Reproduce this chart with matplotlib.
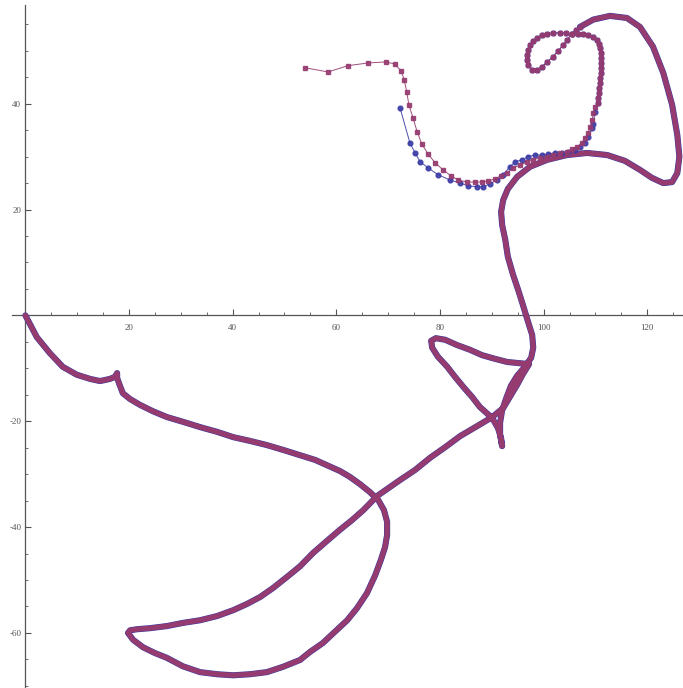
import matplotlib
matplotlib.use("Agg")
import matplotlib.pyplot as plt
from matplotlib.ticker import MultipleLocator, FixedLocator

# dense common trajectory (both series overlap here)
path_x = [0.0, 2.2, 4.7, 7.2, 9.9, 12.5, 14.4, 16.3, 17.3, 17.7, 17.7, 18.1, 18.8, 20.2, 22.1,
          24.6, 27.3, 30.4, 33.7, 37.0, 40.1, 43.3, 46.6, 49.7, 53.0, 55.9, 58.2, 60.7, 62.6,
          64.6, 66.5, 68.1, 69.2, 69.8, 69.8, 69.4, 68.6, 67.5, 65.9, 64.0, 62.1, 59.7, 57.4,
          54.9, 53.0, 49.7, 46.6, 43.3, 40.1, 37.0, 33.7, 30.4, 27.3, 25.0, 22.7, 20.8, 19.8,
          20.2, 21.5, 24.0, 27.3, 30.4, 33.7, 37.0, 40.1, 42.8, 45.3, 47.8, 50.5, 53.0, 55.5,
          58.2, 60.7, 63.0, 65.2, 67.9, 70.4, 72.3, 75.2, 78.1, 81.0, 83.9, 87.2, 90.1, 92.2,
          93.5, 94.9, 96.0, 97.2, 95.1, 93.0, 90.6, 88.1, 85.8, 83.3, 81.0, 79.2, 78.3, 78.5,
          79.6, 81.4, 82.9, 84.5, 86.2, 87.7, 90.1, 91.2, 91.8, 92.0, 91.6, 91.6, 92.0, 92.8,
          93.7, 94.9, 96.4, 97.6, 98.0, 97.8, 97.0, 96.0, 95.1, 94.1, 93.1, 92.6, 92.0, 91.8,
          92.2, 93.1, 94.9, 97.4, 100.7, 104.5, 108.4, 112.3, 115.7, 118.6, 120.9, 123.1, 124.8,
          125.8, 126.2, 125.8, 124.8, 123.1, 121.1, 118.6, 116.1, 112.8, 109.6, 107.0]
path_y = [0.0, -4.1, -7.1, -9.7, -11.2, -12.0, -12.4, -12.0, -11.6, -10.9, -11.8, -12.9, -14.7,
          -15.8, -16.9, -18.1, -19.2, -20.1, -21.1, -22.0, -23.0, -23.7, -24.5, -25.4, -26.4,
          -27.3, -28.3, -29.4, -30.5, -31.9, -33.4, -34.9, -36.8, -39.0, -41.5, -43.8, -46.2,
          -49.1, -52.5, -55.3, -57.6, -59.8, -61.9, -63.6, -65.1, -66.4, -67.4, -67.8, -68.0,
          -67.8, -67.4, -66.3, -64.7, -63.8, -62.7, -61.3, -60.0, -59.5, -59.3, -59.1, -58.7,
          -58.1, -57.6, -56.8, -55.7, -54.5, -53.2, -51.5, -49.4, -47.4, -44.9, -42.6, -40.5,
          -38.7, -36.8, -34.1, -32.4, -31.1, -29.2, -26.9, -24.9, -22.8, -20.9, -19.2, -17.5,
          -15.4, -13.1, -11.1, -9.2, -9.0, -8.8, -8.2, -7.5, -6.5, -5.6, -4.6, -4.3, -4.8, -6.1,
          -7.8, -9.7, -11.6, -13.5, -15.4, -17.3, -19.4, -21.3, -23.2, -24.7, -22.6, -20.3,
          -17.9, -15.6, -13.3, -11.4, -9.7, -8.0, -6.1, -3.7, -1.2, 2.0, 4.8, 7.7, 11.1, 14.3,
          17.1, 19.6, 21.8, 23.9, 26.2, 28.1, 29.4, 30.3, 30.7, 30.3, 29.2, 27.5, 26.0, 25.0,
          25.2, 26.9, 30.0, 34.1, 39.8, 45.8, 50.8, 54.5, 56.2, 56.6, 55.9, 54.5]

# small loop and descending strand (shared, sparser points)
loop_x = [106.3, 105.5, 104.5, 103.8, 102.8, 101.8, 100.7, 99.7, 98.7, 97.8, 97.0, 96.8, 96.8,
          97.0, 97.4, 98.0, 98.7, 99.7, 100.7, 101.8, 103.2, 104.3, 105.5, 106.7, 107.6, 108.6,
          109.6, 110.3, 110.7, 110.9, 111.1, 111.1, 111.1, 111.1, 111.1, 110.9, 110.9, 110.7,
          110.7, 110.5, 110.5]
loop_y = [54.0, 53.2, 52.1, 51.1, 50.0, 48.9, 47.9, 47.0, 46.4, 46.4, 47.4, 48.3, 49.2, 50.2,
          51.1, 51.9, 52.5, 53.0, 53.2, 53.4, 53.4, 53.4, 53.2, 53.2, 53.2, 53.0, 52.6, 52.1,
          51.3, 50.6, 49.6, 48.7, 47.7, 46.8, 45.8, 44.9, 44.0, 43.0, 42.1, 41.1, 40.2]

blue_tail_x = [109.9, 109.6, 109.4, 108.6, 108.0, 107.1, 106.1, 104.7, 103.6, 102.2, 100.9, 99.7,
               98.4, 97.0, 95.8, 94.5, 93.5, 92.2, 91.0, 89.7, 88.3, 87.2, 85.4, 83.9, 81.9,
               79.6, 77.7, 76.2, 75.2, 74.2, 72.3]
blue_tail_y = [38.5, 36.1, 35.4, 33.7, 32.6, 31.9, 31.3, 30.9, 30.7, 30.7, 30.5, 30.3, 30.3,
               30.0, 29.4, 29.0, 28.1, 26.6, 25.6, 24.9, 24.3, 24.3, 24.5, 25.0, 25.6, 26.6,
               27.9, 29.0, 30.7, 32.6, 39.2]

purple_tail_x = [109.9, 109.6, 109.4, 109.0, 108.6, 108.0, 107.4, 106.5, 105.5, 104.5, 103.2,
                 101.8, 100.7, 99.3, 98.0, 96.8, 95.5, 94.1, 93.0, 91.8, 90.6, 89.3, 88.1, 86.8,
                 85.2, 83.5, 82.1, 80.6, 79.1, 77.7, 76.5, 75.6, 74.8, 74.0, 73.6, 73.1, 72.5,
                 71.3, 69.6, 66.1, 62.3, 58.4, 54.0]
purple_tail_y = [39.4, 38.3, 37.0, 35.6, 34.5, 33.6, 32.6, 31.9, 31.5, 30.9, 30.7, 30.3, 30.0,
                 29.8, 29.4, 29.0, 28.4, 27.9, 26.9, 26.4, 25.8, 25.4, 25.2, 25.2, 25.2, 25.6,
                 26.4, 27.5, 28.8, 30.5, 32.4, 34.7, 37.3, 39.8, 42.2, 44.5, 46.2, 47.5, 47.9,
                 47.7, 47.2, 46.0, 46.8]

blue = "#3b3ba6"
purple = "#953b6f"

plt.rcParams["axes.unicode_minus"] = False
fig = plt.figure(figsize=(6.83, 6.88), dpi=100)
ax = fig.add_axes([0, 0, 1, 1])

# dense part as thick bands
ax.plot(path_x, path_y, color=blue, lw=4.4, solid_capstyle="round", solid_joinstyle="round", zorder=3)
ax.plot(path_x, path_y, color=purple, lw=3.7, solid_capstyle="round", solid_joinstyle="round", zorder=4)

# sparse part with markers
bx = path_x[-1:] + loop_x + blue_tail_x
by = path_y[-1:] + loop_y + blue_tail_y
px = path_x[-1:] + loop_x + purple_tail_x
py = path_y[-1:] + loop_y + purple_tail_y
ax.plot(bx, by, color=blue, lw=0.7, marker="o", ms=3.4, mec=blue, mfc=blue, zorder=5, alpha=0.9)
ax.plot(px, py, color=purple, lw=0.7, marker="s", ms=3.0, mec=purple, mfc=purple, zorder=6, alpha=0.9)

ax.set_xlim(-4.9, 126.9)
ax.set_ylim(-70.4, 59.6)
ax.set_facecolor("white")

for s in ["top", "right"]:
    ax.spines[s].set_visible(False)
ax.spines["left"].set_position(("data", 0))
ax.spines["bottom"].set_position(("data", 0))
ax.spines["bottom"].set_bounds(-2.6, 126.9)
ax.spines["left"].set_bounds(-70.4, 58.7)
for s in ["left", "bottom"]:
    ax.spines[s].set_color("#555555")
    ax.spines[s].set_linewidth(0.9)
    ax.spines[s].set_zorder(2)

ax.xaxis.set_major_locator(FixedLocator([20, 40, 60, 80, 100, 120]))
ax.yaxis.set_major_locator(FixedLocator([-60, -40, -20, 20, 40]))
ax.xaxis.set_minor_locator(MultipleLocator(5))
ax.yaxis.set_minor_locator(MultipleLocator(5))
ax.tick_params(which="major", direction="in", length=4, width=0.8, color="#555555",
               labelsize=6.5, labelcolor="#555555", pad=3)
ax.tick_params(which="minor", direction="in", length=2.5, width=0.6, color="#555555")
ax.tick_params(axis="x", pad=6)
for lab in ax.get_xticklabels() + ax.get_yticklabels():
    lab.set_fontfamily("Liberation Serif")

fig.savefig("out.png", dpi=100)
